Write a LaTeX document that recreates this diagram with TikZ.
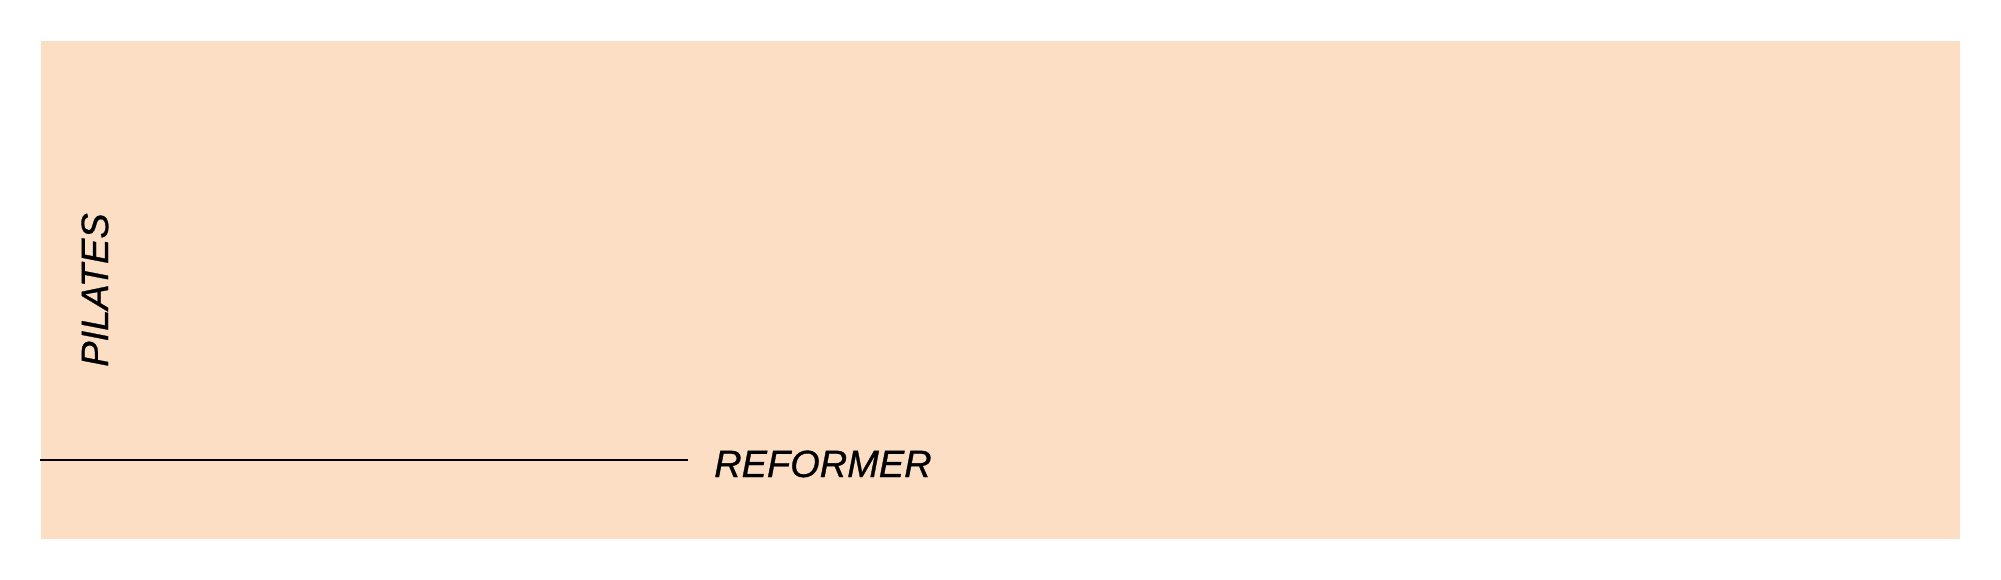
\documentclass[tikz,border=0pt]{standalone}
\usepackage{fontspec}
\setmainfont{Liberation Sans}[ItalicFeatures={FakeBold=0.8}]
\definecolor{peach}{HTML}{FBDEC4}
\begin{document}
\begin{tikzpicture}[x=1pt,y=-1pt,
  label/.style={font=\fontsize{38}{38}\selectfont\itshape, inner sep=0pt, text=black}]
\useasboundingbox (0,0) rectangle (2001,580);
\fill[peach] (41,41) rectangle (1960,539);
\coordinate (ls) at (40,460);
\coordinate (le) at (688,460);
\draw[line width=1.1pt] (ls) -- (le);
\node[label, anchor=base west] (ref) at (714,477) {REFORMER};
\node[label, anchor=base, rotate=90] (pil) at (108,290) {PILATES};
\end{tikzpicture}
\end{document}
